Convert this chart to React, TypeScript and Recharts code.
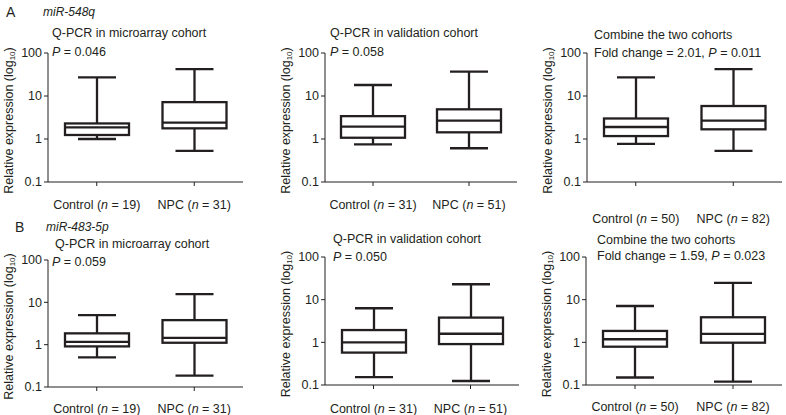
import React from "react";
import { ComposedChart, Bar, Scatter, XAxis, YAxis } from "recharts";

const groups = ["Control", "NPC"];
const yTicks = [0.1, 1, 10, 100];

// each group: [min, q1, median, q3, max]
// A: miR-548q
const a1Control = [1.0, 1.24, 1.87, 2.3, 27];
const a1Npc = [0.53, 1.77, 2.4, 7.2, 42];
const a1N = [19, 31];
const a2Control = [0.75, 1.07, 1.93, 3.4, 18];
const a2Npc = [0.61, 1.43, 2.67, 4.9, 37];
const a2N = [31, 51];
const a3Control = [0.77, 1.17, 1.9, 3.0, 27];
const a3Npc = [0.53, 1.68, 2.67, 5.85, 42];
const a3N = [50, 82];
// B: miR-483-5p
const b1Control = [0.5, 0.91, 1.16, 1.85, 5.0];
const b1Npc = [0.186, 1.11, 1.44, 3.8, 15.6];
const b1N = [19, 31];
const b2Control = [0.153, 0.575, 1.0, 1.94, 6.3];
const b2Npc = [0.124, 0.91, 1.59, 3.8, 23];
const b2N = [31, 51];
const b3Control = [0.15, 0.79, 1.18, 1.85, 7.1];
const b3Npc = [0.12, 0.98, 1.57, 3.87, 24.7];
const b3N = [50, 82];

const INK = "#231f20";
const FONT = "'Liberation Sans', Arial, Helvetica, sans-serif";
const BOX_W = 64;
const CAP_W = 38;
const LW = 2.3;

function toRows(ctrl: number[], npc: number[]) {
  return [ctrl, npc].map((s, i) => ({
    group: groups[i],
    whisker: [s[0], s[4]],
    box: [s[1], s[3]],
    median: s[2],
  }));
}

const WhiskerShape = (props: any) => {
  const { x, y, width, height } = props;
  const cx = x + width / 2;
  return (
    <g stroke={INK} strokeWidth={LW}>
      <line x1={cx} x2={cx} y1={y} y2={y + height} />
      <line x1={x} x2={x + width} y1={y} y2={y} />
      <line x1={x} x2={x + width} y1={y + height} y2={y + height} />
    </g>
  );
};

const BoxShape = (props: any) => {
  const { x, y, width, height } = props;
  return <rect x={x} y={y} width={width} height={height} fill="#fff" stroke={INK} strokeWidth={LW} />;
};

const MedianShape = (props: any) => {
  const { cx, cy } = props;
  return <line x1={cx - BOX_W / 2} x2={cx + BOX_W / 2} y1={cy} y2={cy} stroke={INK} strokeWidth={LW} />;
};

const YLabel = (props: any) => {
  const vb = props.viewBox || {};
  const cx = vb.x + 9;
  const cy = vb.y + vb.height / 2 + 3;
  return (
    <text
      x={cx}
      y={cy}
      transform={`rotate(-90, ${cx}, ${cy})`}
      textAnchor="middle"
      dominantBaseline="central"
      fontSize={12.5}
      fill={INK}
      fontFamily={FONT}
    >
      Relative expression (log
      <tspan fontSize={8} dy={3}>10</tspan>
      <tspan dy={-3}>)</tspan>
    </text>
  );
};

interface PanelProps {
  rows: ReturnType<typeof toRows>;
  n: number[];
  axisLeft: number;
  axisRight: number;
  plotTop: number;
  plotBottom: number;
  tickDy: number;
}

function BoxPanel({ rows, n, axisLeft, axisRight, plotTop, plotBottom, tickDy }: PanelProps) {
  const left = axisLeft - 48;
  const top = plotTop - 8;
  const width = axisRight - left + 4;
  const axisH = Math.max(40, tickDy + 10);
  const height = plotBottom - top + axisH;

  const XTick = (p: any) => {
    const idx = groups.indexOf(p.payload.value);
    return (
      <text x={p.x} y={p.y + tickDy} textAnchor="middle" fontSize={12.5} fill={INK} fontFamily={FONT}>
        {p.payload.value} (<tspan fontStyle="italic">n</tspan> = {n[idx]})
      </text>
    );
  };

  return (
    <div style={{ position: "absolute", left, top }}>
      <ComposedChart width={width} height={height} data={rows} margin={{ top: 8, right: 4, bottom: 0, left: 0 }}>
        <XAxis
          xAxisId="box"
          dataKey="group"
          type="category"
          height={axisH}
          tickSize={4}
          stroke={INK}
          tick={<XTick />}
          interval={0}
        />
        <XAxis xAxisId="whisker" dataKey="group" type="category" hide />
        <YAxis
          type="number"
          scale="log"
          domain={[0.1, 100]}
          ticks={yTicks}
          allowDataOverflow
          width={48}
          tickSize={4}
          stroke={INK}
          tick={{ fontSize: 12.5, fill: INK, fontFamily: FONT }}
          tickFormatter={(v: number) => String(v)}
          label={(lp: any) => <YLabel {...lp} />}
        />
        <Bar xAxisId="whisker" dataKey="whisker" barSize={CAP_W} shape={<WhiskerShape />} isAnimationActive={false} />
        <Bar xAxisId="box" dataKey="box" barSize={BOX_W} shape={<BoxShape />} isAnimationActive={false} />
        <Scatter xAxisId="box" dataKey="median" shape={<MedianShape />} isAnimationActive={false} />
      </ComposedChart>
    </div>
  );
}

const Txt = ({ x, y, size = 12.5, italic = false, children }: any) => (
  <div
    style={{
      position: "absolute",
      left: x,
      top: y - 8,
      fontSize: size,
      lineHeight: "16px",
      fontStyle: italic ? "italic" : "normal",
      whiteSpace: "nowrap",
      color: INK,
    }}
  >
    {children}
  </div>
);

export default function App() {
  return (
    <div
      style={{
        position: "absolute",
        left: 0,
        top: 0,
        width: 786,
        height: 415,
        background: "#fff",
        fontFamily: FONT,
        overflow: "hidden",
      }}
    >
      <Txt x={6} y={12} size={14}>A</Txt>
      <Txt x={43} y={12} size={12} italic>miR-548q</Txt>
      <Txt x={52} y={33}>Q-PCR in microarray cohort</Txt>
      <Txt x={52} y={52}><i>P</i> = 0.046</Txt>
      <Txt x={330} y={33}>Q-PCR in validation cohort</Txt>
      <Txt x={330} y={52}><i>P</i> = 0.058</Txt>
      <Txt x={594} y={35}>Combine the two cohorts</Txt>
      <Txt x={594} y={53}>Fold change = 2.01, <i>P</i> = 0.011</Txt>

      <Txt x={15} y={227} size={14}>B</Txt>
      <Txt x={46} y={227} size={12} italic>miR-483-5p</Txt>
      <Txt x={55} y={244}>Q-PCR in microarray cohort</Txt>
      <Txt x={52} y={262}><i>P</i> = 0.059</Txt>
      <Txt x={333} y={239}>Q-PCR in validation cohort</Txt>
      <Txt x={333} y={257}><i>P</i> = 0.050</Txt>
      <Txt x={597} y={240}>Combine the two cohorts</Txt>
      <Txt x={597} y={256}>Fold change = 1.59, <i>P</i> = 0.023</Txt>

      <BoxPanel rows={toRows(a1Control, a1Npc)} n={a1N} axisLeft={48} axisRight={243} plotTop={53} plotBottom={182} tickDy={21} />
      <BoxPanel rows={toRows(a2Control, a2Npc)} n={a2N} axisLeft={325} axisRight={517} plotTop={53} plotBottom={182} tickDy={21} />
      <BoxPanel rows={toRows(a3Control, a3Npc)} n={a3N} axisLeft={587} axisRight={782} plotTop={53} plotBottom={182} tickDy={35} />
      <BoxPanel rows={toRows(b1Control, b1Npc)} n={b1N} axisLeft={48} axisRight={243} plotTop={260} plotBottom={387} tickDy={20} />
      <BoxPanel rows={toRows(b2Control, b2Npc)} n={b2N} axisLeft={325} axisRight={519} plotTop={257} plotBottom={385} tickDy={22} />
      <BoxPanel rows={toRows(b3Control, b3Npc)} n={b3N} axisLeft={586} axisRight={782} plotTop={257} plotBottom={385} tickDy={20} />
    </div>
  );
}
